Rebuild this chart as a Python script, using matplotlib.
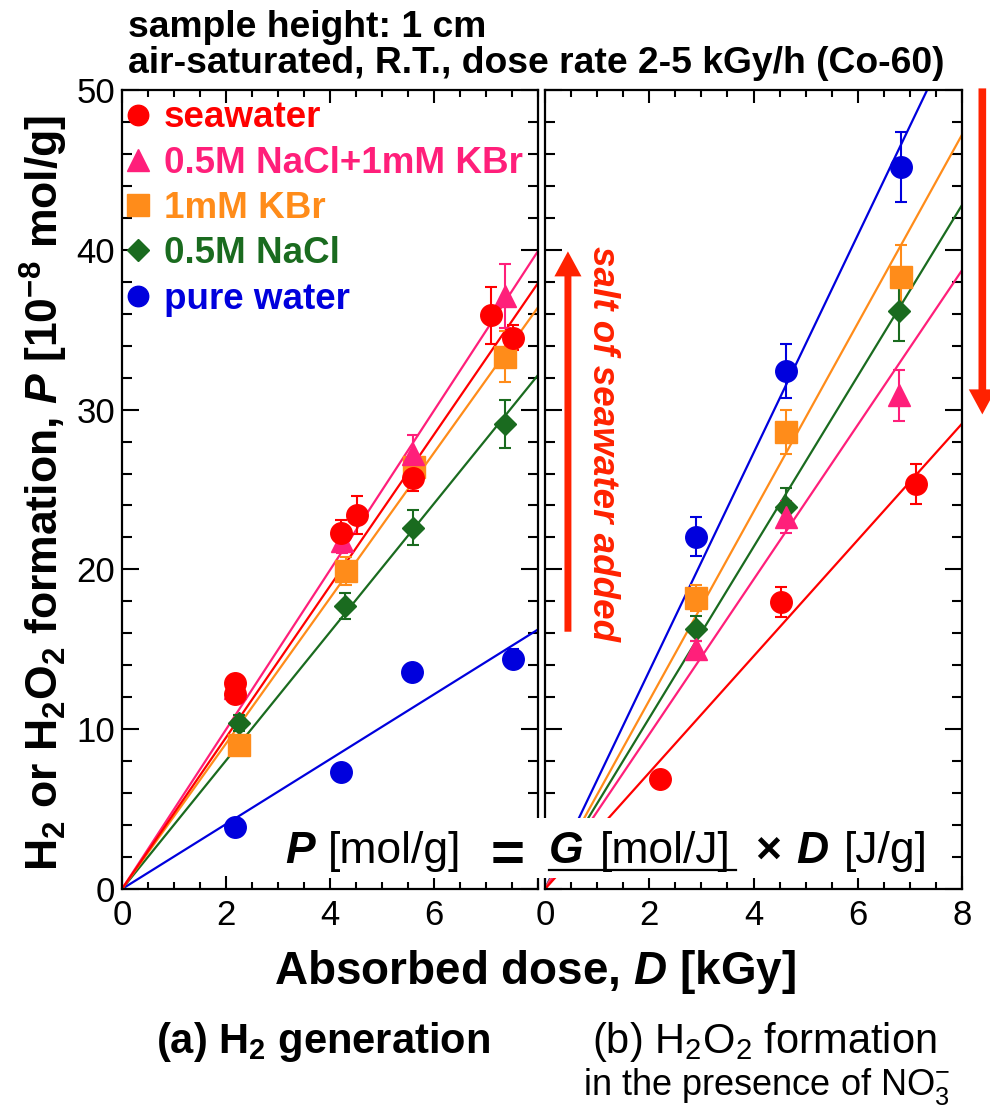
import numpy as np
import matplotlib
matplotlib.use('Agg')
import matplotlib.pyplot as plt
from matplotlib.ticker import MultipleLocator
from matplotlib.lines import Line2D
from matplotlib.patches import Rectangle

plt.rcParams['font.family'] = ['Liberation Sans', 'DejaVu Sans']
plt.rcParams['mathtext.fontset'] = 'custom'
plt.rcParams['mathtext.rm'] = 'Liberation Sans'
plt.rcParams['mathtext.it'] = 'Liberation Sans:italic'
plt.rcParams['mathtext.bf'] = 'Liberation Sans:bold'
plt.rcParams['mathtext.bfit'] = 'Liberation Sans:bold:italic'

# series order: seawater, 0.5M NaCl+1mM KBr, 1mM KBr, 0.5M NaCl, pure water
labels = ['seawater', '0.5M NaCl+1mM KBr', '1mM KBr', '0.5M NaCl', 'pure water']

# (a) H2 generation
h2_dose = [[2.17, 2.17, 4.21, 4.51, 5.59, 7.09, 7.51],
           [2.17, 4.23, 5.60, 7.37],
           [2.25, 4.30, 5.62, 7.37],
           [2.25, 4.28, 5.60, 7.37],
           [2.17, 4.21, 5.58, 7.51]]
h2_p = [[12.9, 12.2, 22.3, 23.4, 25.7, 35.9, 34.5],
        [12.6, 21.8, 27.2, 37.1],
        [9.0, 19.9, 26.4, 33.3],
        [10.4, 17.7, 22.6, 29.1],
        [3.9, 7.3, 13.6, 14.4]]
h2_err = [[0.5, 0.4, 0.8, 1.2, 0.8, 1.8, 0.8],
          [0.4, 0.8, 1.2, 2.0],
          [0.5, 0.9, 0.7, 1.6],
          [0.5, 0.8, 1.1, 1.5],
          [0.3, 0.3, 0.5, 0.6]]
h2_slope = [4.74, 4.99, 4.55, 4.02, 2.03]

# (b) H2O2 formation with NO3-
h2o2_dose = [[2.21, 4.52, 7.11],
             [2.89, 4.63, 6.80],
             [2.89, 4.63, 6.83],
             [2.89, 4.63, 6.80],
             [2.89, 4.63, 6.83]]
h2o2_p = [[6.9, 17.95, 25.35],
          [15.0, 23.3, 30.9],
          [18.2, 28.6, 38.3],
          [16.3, 23.9, 36.2],
          [22.05, 32.4, 45.2]]
h2o2_err = [[0.3, 0.95, 1.25],
            [0.5, 1.0, 1.6],
            [0.8, 1.4, 2.0],
            [0.8, 1.2, 1.9],
            [1.2, 1.7, 2.2]]
h2o2_slope = [3.64, 4.84, 5.9, 5.35, 6.82]

colors = ['#ff0000', '#ff1f7a', '#ff8c1a', '#1a6b1f', '#0000dd']
markers = ['o', '^', 's', 'D', 'o']
msizes = [15.5, 16.5, 16, 11.5, 15.5]
draw_order = [4, 3, 2, 1, 0]

W, H = 990, 1106
fig = plt.figure(figsize=(W / 100, H / 100), dpi=100)
axL = fig.add_axes([122 / W, 1 - 889 / H, 416 / W, 799 / H])
axR = fig.add_axes([545 / W, 1 - 889 / H, 417 / W, 799 / H])

xfit = np.array([0.0, 8.0])
for ax, dose, pv, err, slope in [(axL, h2_dose, h2_p, h2_err, h2_slope),
                                 (axR, h2o2_dose, h2o2_p, h2o2_err, h2o2_slope)]:
    for i in draw_order:
        ax.plot(xfit, slope[i] * xfit, color=colors[i], lw=1.6, zorder=2)
    for i in draw_order:
        ax.errorbar(dose[i], pv[i], yerr=err[i], fmt=markers[i], ms=msizes[i],
                    color=colors[i], mec=colors[i], ecolor=colors[i],
                    elinewidth=1.5, capsize=4, capthick=1.5, zorder=3)
    ax.set_xlim(0, 8)
    ax.set_ylim(0, 50)
    ax.xaxis.set_major_locator(MultipleLocator(2))
    ax.xaxis.set_minor_locator(MultipleLocator(0.5))
    ax.yaxis.set_major_locator(MultipleLocator(10))
    ax.yaxis.set_minor_locator(MultipleLocator(2))
    ax.tick_params(which='both', direction='in', top=True, right=True,
                   width=1.5, labelsize=25, colors='black')
    ax.tick_params(axis='y', which='major', length=12, pad=5)
    ax.tick_params(axis='y', which='minor', length=7)
    ax.tick_params(axis='x', which='major', length=9.5, pad=7)
    ax.tick_params(axis='x', which='minor', length=5)
    for s in ax.spines.values():
        s.set_linewidth(1.6)

axL.set_xticks([0, 2, 4, 6])
axR.set_xticks([0, 2, 4, 6, 8])
axR.tick_params(axis='y', labelleft=False)

# legend
handles = [Line2D([], [], ls='none', marker=markers[i], color=colors[i],
                  ms=msizes[i] * 0.95) for i in range(5)]
axL.legend(handles, labels, loc='upper left', bbox_to_anchor=(0.012, 0.987),
           frameon=False, prop={'weight': 'bold', 'size': 26.5},
           labelcolor=colors, handlelength=0.6, handletextpad=0.4,
           labelspacing=0.28, borderpad=0, borderaxespad=0)

# axis labels
fig.text(44 / W, 1 - 493 / H,
         r'$\mathbf{H_2}$ or $\mathbf{H_2O_2}$ formation, $\mathbfit{P}$ [$\mathbf{10^{-8}}$ mol/g]',
         rotation=90, ha='center', va='center', fontsize=32, weight='bold')
fig.text(535 / W, 1 - 972 / H, r'Absorbed dose, $\mathbfit{D}$ [kGy]',
         ha='center', va='center', fontsize=33, weight='bold')

# header
fig.text(128 / W, 1 - 37 / H, 'sample height: 1 cm', fontsize=26.8,
         weight='bold', va='baseline')
fig.text(128 / W, 1 - 73 / H, 'air-saturated, R.T., dose rate 2-5 kGy/h (Co-60)',
         fontsize=26.8, weight='bold', va='baseline')

# captions
fig.text(323 / W, 1 - 1053 / H, r'(a) $\mathbf{H_2}$ generation', fontsize=30,
         weight='bold', ha='center', va='baseline')
fig.text(764 / W, 1 - 1053 / H, r'(b) $\mathrm{H_2O_2}$ formation', fontsize=30,
         ha='center', va='baseline')
fig.text(767 / W, 1 - 1095 / H, r'in the presence of $\mathrm{NO_3^{-}}$', fontsize=26,
         ha='center', va='baseline')

# arrows
arrow_red = '#ff2200'
axR.annotate('', xy=(0.44, 39.9), xytext=(0.44, 16.1),
             arrowprops=dict(arrowstyle='simple,head_width=1.95,head_length=1.8,tail_width=0.5',
                             mutation_scale=10, color=arrow_red, lw=0,
                             shrinkA=0, shrinkB=0), zorder=4)
axR.text(1.11, 27.9, 'salt of seawater added', rotation=-90, style='italic',
         weight='bold', fontsize=26.5, color=arrow_red, ha='center', va='center',
         zorder=4)
axR.annotate('', xy=(8.39, 29.7), xytext=(8.39, 50.1), annotation_clip=False,
             arrowprops=dict(arrowstyle='simple,head_width=1.95,head_length=1.8,tail_width=0.55',
                             mutation_scale=10, color=arrow_red, lw=0,
                             shrinkA=0, shrinkB=0, clip_on=False), zorder=4)

# equation with white backing
fig.add_artist(Rectangle((278 / W, 1 - 878 / H), 654 / W, 60 / H,
                         transform=fig.transFigure, facecolor='white',
                         edgecolor='none', zorder=5))
# (text, weight, style, size, left x in px)
pieces = [('P', 'bold', 'italic', 32, 285),
          ('[mol/g]', 'normal', 'normal', 32, 328),
          ('G', 'bold', 'italic', 32, 549),
          ('[mol/J]', 'normal', 'normal', 32, 600),
          ('\u00d7', 'bold', 'normal', 32, 755),
          ('D', 'bold', 'italic', 32, 796),
          ('[J/g]', 'normal', 'normal', 32, 844)]
ybase = 1 - 863 / H
for s, w, st, fs, xl in pieces:
    fig.text(xl / W, ybase, s, fontsize=fs, weight=w, style=st,
             va='baseline', ha='left', zorder=6)
fig.text(508 / W, 1 - 851 / H, '=', fontsize=42, weight='bold',
         ha='center', va='center_baseline', zorder=6)
fig.add_artist(Line2D([549 / W, 736 / W], [1 - 870 / H] * 2,
                      transform=fig.transFigure, color='black', lw=1.6, zorder=6))

fig.savefig('out.png', dpi=100)
